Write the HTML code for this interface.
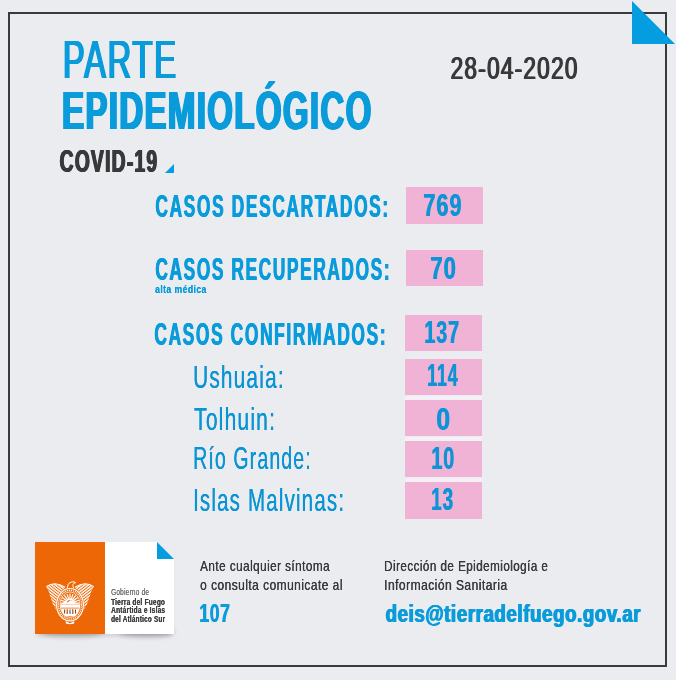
<!DOCTYPE html>
<html lang="es">
<head>
<meta charset="utf-8">
<title>Parte Epidemiológico</title>
<style>
html,body{margin:0;padding:0;}
body{width:676px;height:680px;background:#ebecef;position:relative;overflow:hidden;font-family:"Liberation Sans",Arial,sans-serif;}
.t{position:absolute;white-space:nowrap;line-height:1;transform-origin:0 0;}
.b{font-weight:bold;}
.blue{color:#0a9bdb;}
.nb{color:#0e94d6;font-weight:bold;}
.dark{color:#39393b;}
.frame{position:absolute;left:8px;top:12px;width:655px;height:651px;border:2px solid #3a3a3c;}
.box{position:absolute;width:77px;background:#f0b3d5;}
.abs{position:absolute;left:0;top:0;}

</style>
</head>
<body>
<div class="frame"></div>
<svg class="abs" width="676" height="680">
  <polygon points="632,1 632,44 675,44" fill="#039de0"/>
  <polygon points="165,173 174,164 174,173" fill="#039de0"/>
</svg>
<div class="box" style="left:406px;top:187px;height:37px"></div>
<div class="box" style="left:406px;top:250px;height:36px"></div>
<div class="box" style="left:405px;top:315px;height:36px"></div>
<div style="position:absolute;left:405px;top:396px;width:77px;height:4px;background:#f3f1f5"></div>
<div style="position:absolute;left:405px;top:437px;width:77px;height:4px;background:#f3f1f5"></div>
<div style="position:absolute;left:405px;top:478px;width:77px;height:4px;background:#f3f1f5"></div>
<div class="box" style="left:405px;top:359px;height:36px"></div>
<div class="box" style="left:405px;top:400px;height:36px"></div>
<div class="box" style="left:405px;top:441px;height:36px"></div>
<div class="box" style="left:405px;top:482px;height:37px"></div>
<div style="position:absolute;left:40px;top:626px;width:64px;height:11px;border-radius:50%;background:rgba(0,0,0,0.22);filter:blur(2.5px);"></div><div style="position:absolute;left:118px;top:626px;width:56px;height:11px;border-radius:50%;background:rgba(0,0,0,0.24);filter:blur(2.5px);"></div><div style="position:absolute;left:36px;top:542px;width:137px;height:92px;box-shadow:0 3px 4px -1px rgba(0,0,0,0.12);"></div>
<div style="position:absolute;left:35px;top:542px;width:70px;height:92px;background:#ee6706;"></div>
<div style="position:absolute;left:105px;top:542px;width:69px;height:92px;background:#fff;"></div>
<!--EMB--><svg style="position:absolute;left:35px;top:542px" width="70" height="92" viewBox="0 0 70 92"><defs><pattern id="fs" patternUnits="userSpaceOnUse" width="2.3" height="2.3" patternTransform="rotate(38)"><rect width="2.3" height="1.35" fill="#fff"/></pattern></defs><path d="M11.3,44.6 Q20,38.6 30,45.2 L28,50 Q22.5,57 21.8,68.5 Q17.5,63 15.8,56 Q13.8,49 11.3,44.6 Z" fill="url(#fs)"/><path d="M11.3,44.6 Q20,38.6 30,45.2" stroke="#fff" stroke-width="1.1" fill="none"/><g transform="translate(70.0,0) scale(-1,1)"><path d="M11.3,44.6 Q20,38.6 30,45.2 L28,50 Q22.5,57 21.8,68.5 Q17.5,63 15.8,56 Q13.8,49 11.3,44.6 Z" fill="url(#fs)"/><path d="M11.3,44.6 Q20,38.6 30,45.2" stroke="#fff" stroke-width="1.1" fill="none"/></g><ellipse cx="35.0" cy="62.7" rx="14.4" ry="17.2" fill="#ee6706"/><ellipse cx="35.0" cy="62.7" rx="13.4" ry="16.2" fill="none" stroke="#fff" stroke-width="1.2"/><ellipse cx="35.0" cy="62.7" rx="11.6" ry="14.399999999999999" fill="none" stroke="#fff" stroke-width="1.3" stroke-dasharray="1.1 0.9"/><ellipse cx="35.0" cy="62.7" rx="10.0" ry="12.799999999999999" fill="#ee6706" stroke="#fff" stroke-width="0.7"/><path d="M31.80,61.20 L25.40,61.20 M31.96,60.21 L25.87,58.23 M32.41,59.32 L27.23,55.56 M33.12,58.61 L29.36,53.43 M34.01,58.16 L32.03,52.07 M35.00,58.00 L35.00,51.60 M35.99,58.16 L37.97,52.07 M36.88,58.61 L40.64,53.43 M37.59,59.32 L42.77,55.56 M38.04,60.21 L44.13,58.23 M38.20,61.20 L44.60,61.20" stroke="#fff" stroke-width="1.25" fill="none"/><path d="M25.6,62.2 L30,59.6 L32.6,60.6 L35.6,58 L39.6,60.4 L44.6,62.2 Z" fill="#fff"/><rect x="25.2" y="62.4" width="19.8" height="3.3" fill="#fff"/><path d="M26,66.6 H44.2 Q43.4,72 39.8,74.2 H30.4 Q26.8,72 26,66.6 Z" fill="#fff"/><path d="M29.6,67.6 v4 M32.2,67.3 v4.8 M35,67.6 v4.4 M37.8,67.3 v4.8 M40.5,67.6 v4" stroke="#8a4515" stroke-width="1.1"/><path d="M30.8,79.2 L35,81.2 L39.2,79.2 L39.2,81.6 L35,82.2 L30.8,81.6 Z" fill="#fff"/><path d="M32.2,45.8 Q32.2,41.2 36.2,40 Q39.4,39.3 40.6,40.6 Q38.7,40.8 38,42.4 Q37.4,44.4 38.6,46" stroke="#fff" stroke-width="0.95" fill="none" stroke-linecap="round"/></svg><!--/EMB-->
<svg class="abs" width="676" height="680">
  <polygon points="157,542 174,542 174,559" fill="#ebecef"/>
  <polygon points="157,542 157,559 174,559" fill="#039de0"/>
</svg>
<div class="t blue" id="parte" style="left:61.76px;top:33.00px;font-size:53px;transform:scaleX(0.6150);text-shadow:0.75px 0 0 currentColor,1.50px 0 0 currentColor,2.25px 0 0 currentColor,3.00px 0 0 currentColor;letter-spacing:3px">PARTE</div>
<div class="t blue b" id="epi" style="left:60.70px;top:84.00px;font-size:53px;transform:scaleX(0.6262);text-shadow:0.75px 0 0 currentColor,1.50px 0 0 currentColor,2.25px 0 0 currentColor,3.00px 0 0 currentColor;letter-spacing:2px">EPIDEMIOLÓGICO</div>
<div class="t dark b" id="covid" style="left:58.61px;top:146.00px;font-size:31px;transform:scaleX(0.6209);text-shadow:0.67px 0 0 currentColor,1.33px 0 0 currentColor,2.00px 0 0 currentColor;letter-spacing:2.0px">COVID-19</div>
<div class="t dark" id="date" style="left:450.36px;top:52.00px;font-size:32px;transform:scaleX(0.7046);text-shadow:0.90px 0 0 currentColor,1.80px 0 0 currentColor;letter-spacing:1.8px">28-04-2020</div>
<div class="t blue b" id="l1" style="left:155.32px;top:191.00px;font-size:31.5px;transform:scaleX(0.5501);text-shadow:0.70px 0 0 currentColor,1.40px 0 0 currentColor;letter-spacing:3.0px">CASOS DESCARTADOS:</div>
<div class="t blue b" id="l2" style="left:155.47px;top:254.00px;font-size:31.5px;transform:scaleX(0.5481);text-shadow:0.70px 0 0 currentColor,1.40px 0 0 currentColor;letter-spacing:3.0px">CASOS RECUPERADOS:</div>
<div class="t blue b" id="alta" style="left:154.86px;top:283.57px;font-size:11.5px;transform:scaleX(0.7458);text-shadow:0.25px 0 0 currentColor;letter-spacing:0.6px">alta médica</div>
<div class="t blue b" id="l3" style="left:153.73px;top:318.80px;font-size:31.5px;transform:scaleX(0.5501);text-shadow:0.70px 0 0 currentColor,1.40px 0 0 currentColor;letter-spacing:3.0px">CASOS CONFIRMADOS:</div>
<div class="t blue" id="l4" style="left:193.03px;top:361.98px;font-size:31.5px;transform:scaleX(0.6611);text-shadow:0.30px 0 0 currentColor;color:#0a94d4;letter-spacing:1.8px">Ushuaia:</div>
<div class="t blue" id="l5" style="left:193.97px;top:403.60px;font-size:31.5px;transform:scaleX(0.6671);text-shadow:0.30px 0 0 currentColor;color:#0a94d4;letter-spacing:1.8px">Tolhuin:</div>
<div class="t blue" id="l6" style="left:192.93px;top:442.88px;font-size:31.5px;transform:scaleX(0.6201);text-shadow:0.30px 0 0 currentColor;color:#0a94d4;letter-spacing:1.8px">Río Grande:</div>
<div class="t blue" id="l7" style="left:193.13px;top:484.90px;font-size:31.5px;transform:scaleX(0.6511);text-shadow:0.30px 0 0 currentColor;color:#0a94d4;letter-spacing:1.8px">Islas Malvinas:</div>
<div class="t nb" id="n1" style="left:422.66px;top:190.40px;font-size:31px;transform:scaleX(0.6980);text-shadow:1.00px 0 0 currentColor;letter-spacing:1.5px">769</div>
<div class="t nb" id="n2" style="left:430.25px;top:253.20px;font-size:31px;transform:scaleX(0.7071);text-shadow:1.00px 0 0 currentColor;letter-spacing:1.5px">70</div>
<div class="t nb" id="n3" style="left:423.92px;top:317.30px;font-size:31px;transform:scaleX(0.6348);text-shadow:1.00px 0 0 currentColor;letter-spacing:1.5px">137</div>
<div class="t nb" id="n4" style="left:427.23px;top:360.30px;font-size:31px;transform:scaleX(0.5738);text-shadow:1.00px 0 0 currentColor;letter-spacing:1.5px">114</div>
<div class="t nb" id="n5" style="left:435.72px;top:403.80px;font-size:31px;transform:scaleX(0.7955);text-shadow:1.00px 0 0 currentColor">0</div>
<div class="t nb" id="n6" style="left:430.98px;top:443.10px;font-size:31px;transform:scaleX(0.6380);text-shadow:1.00px 0 0 currentColor;letter-spacing:1.5px">10</div>
<div class="t nb" id="n7" style="left:431.07px;top:484.20px;font-size:31px;transform:scaleX(0.6068);text-shadow:1.00px 0 0 currentColor;letter-spacing:1.5px">13</div>
<div class="t " id="g1" style="left:111.07px;top:588.07px;font-size:9px;transform:scaleX(0.7220);text-shadow:0.30px 0 0 currentColor;color:#6f6f71;letter-spacing:0.3px">Gobierno de</div>
<div class="t b" id="g2" style="left:110.94px;top:597.69px;font-size:9px;transform:scaleX(0.7243);text-shadow:0.30px 0 0 currentColor;color:#3f3f41;letter-spacing:0.3px">Tierra del Fuego</div>
<div class="t b" id="g3" style="left:111.22px;top:605.86px;font-size:9px;transform:scaleX(0.7263);text-shadow:0.30px 0 0 currentColor;color:#3f3f41;letter-spacing:0.3px">Antártida e Islas</div>
<div class="t b" id="g4" style="left:111.26px;top:614.86px;font-size:9px;transform:scaleX(0.7105);text-shadow:0.30px 0 0 currentColor;color:#3f3f41;letter-spacing:0.3px">del Atlántico Sur</div>
<div class="t dark" id="a1" style="left:199.73px;top:558.40px;font-size:15px;transform:scaleX(0.7793);text-shadow:0.40px 0 0 currentColor;letter-spacing:0.6px">Ante cualquier síntoma</div>
<div class="t dark" id="a2" style="left:200.11px;top:577.14px;font-size:15px;transform:scaleX(0.7954);text-shadow:0.40px 0 0 currentColor;letter-spacing:0.6px">o consulta comunicate al</div>
<div class="t blue b" id="a3" style="left:199.20px;top:599.50px;font-size:26px;transform:scaleX(0.6751);text-shadow:1.00px 0 0 currentColor;letter-spacing:1.0px">107</div>
<div class="t dark" id="d1" style="left:383.95px;top:557.55px;font-size:15px;transform:scaleX(0.7750);text-shadow:0.40px 0 0 currentColor;letter-spacing:0.6px">Dirección de Epidemiología e</div>
<div class="t dark" id="d2" style="left:383.74px;top:576.76px;font-size:15px;transform:scaleX(0.8003);text-shadow:0.40px 0 0 currentColor;letter-spacing:0.6px">Información Sanitaria</div>
<div class="t blue b" id="d3" style="left:384.97px;top:601.50px;font-size:24px;transform:scaleX(0.7762);text-shadow:0.80px 0 0 currentColor,1.60px 0 0 currentColor;letter-spacing:0.8px">deis@tierradelfuego.gov.ar</div>

</body>
</html>
